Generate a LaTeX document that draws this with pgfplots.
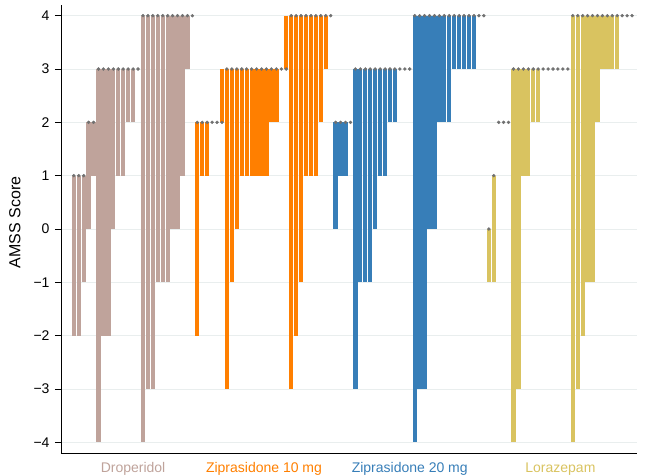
\documentclass[border=0pt]{standalone}
\usepackage{pgfplots}
\pgfplotsset{compat=1.18}
\usepackage{pgfplotstable}
\usepackage{fontspec}
\setmainfont{Liberation Sans}
\definecolor{drop}{RGB}{191,163,155}
\definecolor{zten}{RGB}{255,127,0}
\definecolor{ztwenty}{RGB}{55,126,184}
\definecolor{lora}{RGB}{217,195,96}
\definecolor{dotc}{RGB}{112,112,112}
\definecolor{gridc}{RGB}{233,238,238}
\newcommand\yt[1]{{\fontsize{14}{16}\selectfont #1}}

% x = patient slot, b = baseline score (dot), e = later score (bar end)
\pgfplotstableread{
x b e
0 1 -2
1 1 -2
2 1 -1
3 2 0
4 2 1
5 3 -4
6 3 -2
7 3 -2
8 3 0
9 3 1
10 3 1
11 3 2
12 3 2
13 3 3
14 4 -4
15 4 -3
16 4 -3
17 4 -1
18 4 -1
19 4 -1
20 4 0
21 4 0
22 4 1
23 4 3
24 4 4
}\drop

\pgfplotstableread{
x b e
25 2 -2
26 2 1
27 2 1
28 2 2
29 2 2
30 2 3
31 3 -3
32 3 -1
33 3 0
34 3 1
35 3 1
36 3 1
37 3 1
38 3 1
39 3 1
40 3 2
41 3 2
42 3 3
43 3 4
44 4 -3
45 4 -2
46 4 -1
47 4 1
48 4 1
49 4 1
50 4 2
51 4 3
52 4 4
}\zten

\pgfplotstableread{
x b e
53 2 0
54 2 1
55 2 1
56 2 2
57 3 -3
58 3 -1
59 3 -1
60 3 -1
61 3 0
62 3 1
63 3 1
64 3 2
65 3 2
66 3 3
67 3 3
68 3 3
69 4 -4
70 4 -3
71 4 -3
72 4 0
73 4 0
74 4 2
75 4 2
76 4 2
77 4 3
78 4 3
79 4 3
80 4 3
81 4 3
82 4 4
83 4 4
}\ztwenty

\pgfplotstableread{
x b e
84 0 -1
85 1 -1
86 2 2
87 2 2
88 2 2
89 3 -4
90 3 -3
91 3 1
92 3 1
93 3 2
94 3 2
95 3 3
96 3 3
97 3 3
98 3 3
99 3 3
100 3 3
101 4 -4
102 4 -3
103 4 -2
104 4 -1
105 4 -1
106 4 2
107 4 3
108 4 3
109 4 3
110 4 3
111 4 4
112 4 4
113 4 4
}\lora

\begin{document}
\begin{tikzpicture}
\path[use as bounding box] (0,0) rectangle (646pt,475pt);
\begin{axis}[
  at={(61pt,22pt)}, anchor=south west,
  scale only axis, width=576pt, height=448pt,
  xmin=-2.59, xmax=114.0, ymin=-4.2, ymax=4.2,
  axis x line*=bottom, axis y line*=left,
  axis line style={line width=0.9pt, black},
  clip=false,
  ytick={-4,-3,-2,-1,0,1,2,3,4},
  yticklabels={\yt{−4},\yt{−3},\yt{−2},\yt{−1},\yt{0},\yt{1},\yt{2},\yt{3},\yt{4}},
  tick align=outside, major tick length=6pt,
  ytick style={draw=black, line width=0.7pt},
  yticklabel style={xshift=-2pt},
  xtick={12,38.5,68,98.5},
  xticklabels={\textcolor{drop}{Droperidol},\textcolor{zten}{Ziprasidone 10 mg},\textcolor{ztwenty}{Ziprasidone 20 mg},\textcolor{lora}{Lorazepam}},
  xtick style={draw=none},
  xticklabel style={font=\fontsize{14}{16}\selectfont},
  ymajorgrids, grid style={gridc, line width=1pt},
  ylabel={\fontsize{16}{18}\selectfont AMSS Score},
  ylabel style={at={(axis description cs:-0.08,0.515)}, anchor=center},
]
\addplot [drop, line width=4.3pt, line cap=butt, -, quiver={u=0, v=\thisrow{e}-\thisrow{b}}] table [x=x, y=b] {\drop};
\addplot [zten, line width=4.3pt, line cap=butt, -, quiver={u=0, v=\thisrow{e}-\thisrow{b}}] table [x=x, y=b] {\zten};
\addplot [ztwenty, line width=4.3pt, line cap=butt, -, quiver={u=0, v=\thisrow{e}-\thisrow{b}}] table [x=x, y=b] {\ztwenty};
\addplot [lora, line width=4.3pt, line cap=butt, -, quiver={u=0, v=\thisrow{e}-\thisrow{b}}] table [x=x, y=b] {\lora};
\addplot [only marks, mark=*, mark size=1.5pt, dotc] table [x=x, y=b] {\drop};
\addplot [only marks, mark=*, mark size=1.5pt, dotc] table [x=x, y=b] {\zten};
\addplot [only marks, mark=*, mark size=1.5pt, dotc] table [x=x, y=b] {\ztwenty};
\addplot [only marks, mark=*, mark size=1.5pt, dotc] table [x=x, y=b] {\lora};
\end{axis}
\end{tikzpicture}
\end{document}
